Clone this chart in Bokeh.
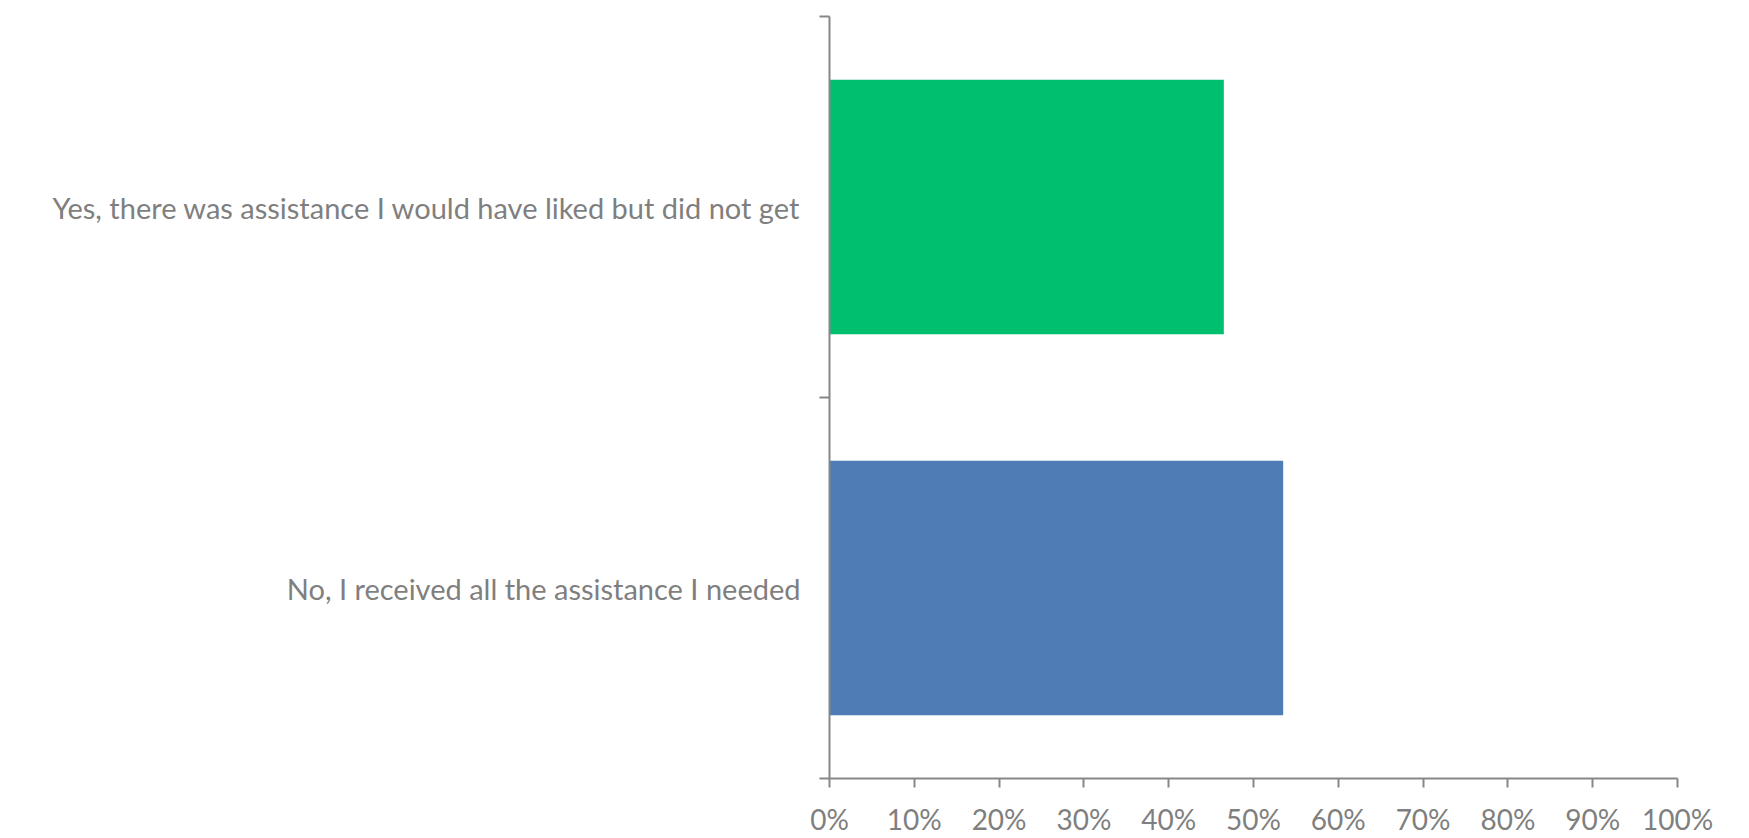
from bokeh.plotting import figure
from bokeh.models import FixedTicker, NumeralTickFormatter, Range1d
from bokeh.embed import file_html
from bokeh.resources import INLINE

categories = ["No, I received all the assistance I needed",
              "Yes, there was assistance I would have liked but did not get"]
values = [0.535, 0.465]
colors = ["#4F7CB4", "#00BF6F"]
x_ticks = [i / 10 for i in range(11)]

FONT = "Lato"
GREY = "#7F7F7F"
AXIS = "#878787"

ypos = [i + 0.5 for i in range(len(categories))]

p = figure(width=1749, height=838, output_backend="svg", toolbar_location=None,
           x_range=Range1d(0, 1), y_range=Range1d(0, len(categories)),
           min_border_left=829, min_border_right=72, min_border_top=16, min_border_bottom=60)
p.outline_line_color = None
p.xgrid.visible = False
p.ygrid.visible = False

p.hbar(y=ypos, right=values, left=0, height=0.668, color=colors, line_color=None)

xa = p.xaxis[0]
xa.ticker = FixedTicker(ticks=x_ticks)
xa.formatter = NumeralTickFormatter(format="0%")
xa.axis_line_color = AXIS
xa.axis_line_width = 2
xa.major_tick_line_color = AXIS
xa.major_tick_line_width = 2
xa.major_tick_out = 9
xa.major_tick_in = 0
xa.minor_tick_line_color = None
xa.major_label_text_font = FONT
xa.major_label_text_font_size = "28px"
xa.major_label_text_color = GREY
xa.major_label_standoff = 14

ya = p.yaxis[0]
ya.ticker = FixedTicker(ticks=ypos, minor_ticks=list(range(len(categories) + 1)))
ya.major_label_overrides = {y: c for y, c in zip(ypos, categories)}
ya.axis_line_color = AXIS
ya.axis_line_width = 2
ya.major_tick_line_color = None
ya.major_tick_out = 0
ya.major_tick_in = 0
ya.minor_tick_line_color = AXIS
ya.minor_tick_line_width = 2
ya.minor_tick_out = 10
ya.minor_tick_in = 0
ya.major_label_text_font = FONT
ya.major_label_text_font_size = "29px"
ya.major_label_text_color = GREY
ya.major_label_standoff = 19

open("out.html", "w").write(file_html(p, INLINE))
